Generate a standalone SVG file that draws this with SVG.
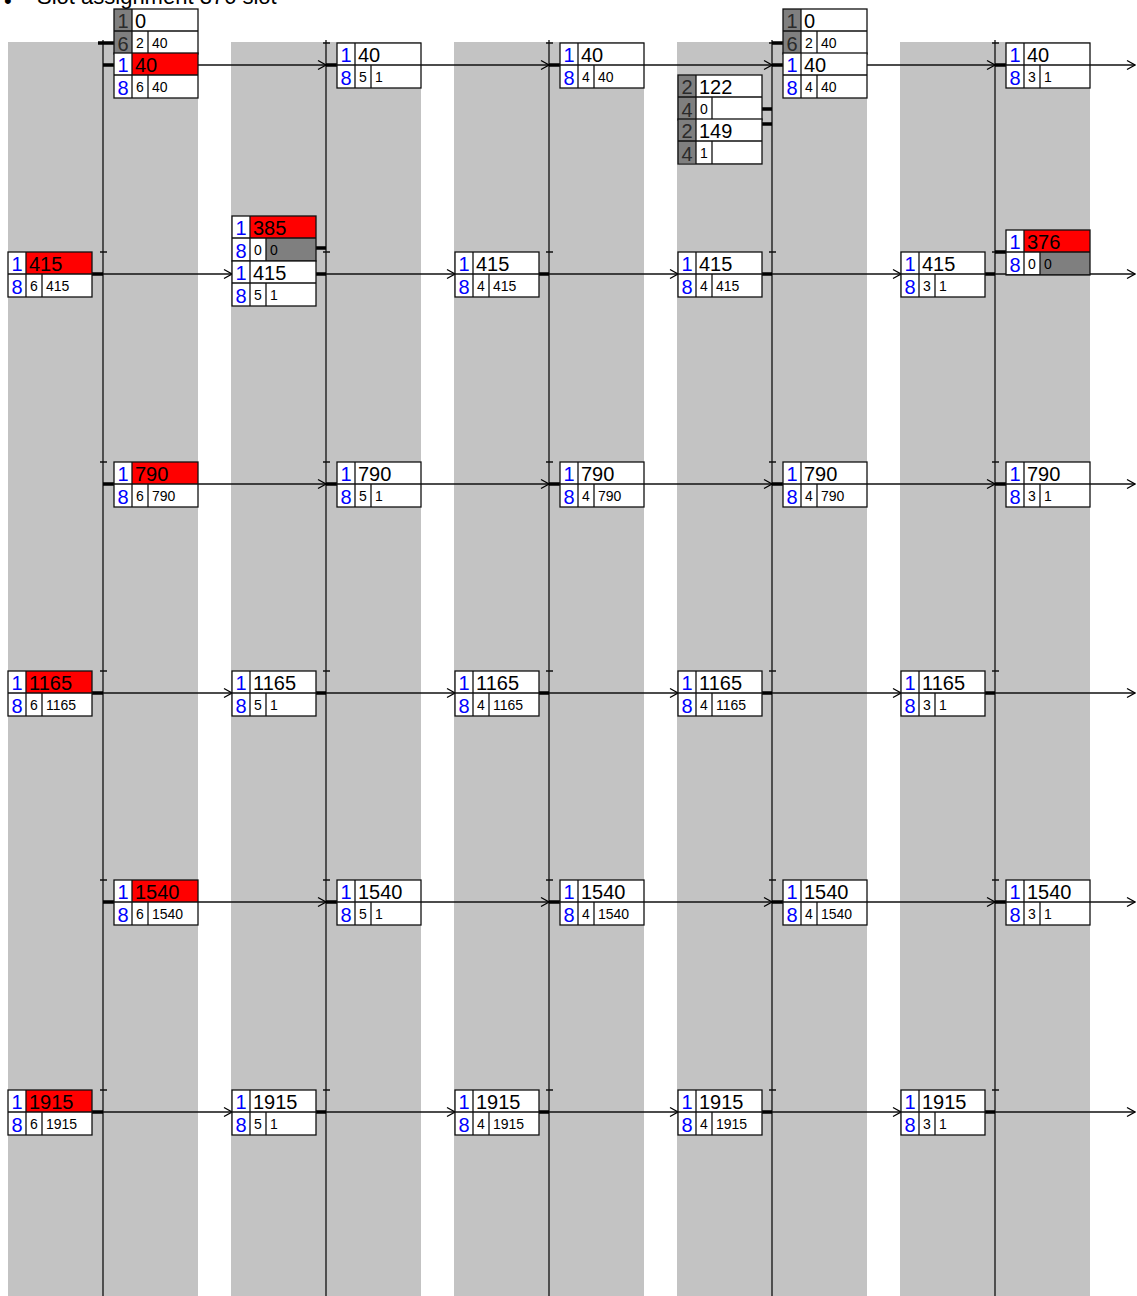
<svg xmlns="http://www.w3.org/2000/svg" xmlns:xlink="http://www.w3.org/1999/xlink" width="1137" height="1296" viewBox="0 0 1137 1296">
<style>
.band{fill:#c3c3c3}
.vl{stroke:#111;stroke-width:1.3;fill:none}
.ln{stroke:#111;stroke-width:1.3;fill:none}
.ar{stroke:#111;stroke-width:1.3;fill:none;marker-end:url(#ah)}
.st{stroke:#000;stroke-width:3.5;fill:none}
.bg{fill:#fff}
.red{fill:#ff0000}
.dk{fill:#7f7f7f}
text{font-family:"Liberation Sans",Arial,sans-serif}
.bl{font-size:20px;fill:#0000ff;text-anchor:middle}
.dt{font-size:20px;fill:#2a2a2a;text-anchor:middle}
.v{font-size:20px;fill:#000}
.s{font-size:14px;fill:#000;text-anchor:middle}
.sv{font-size:14px;fill:#000}
.ttl{font-size:22px;fill:#000}
</style>
<defs>
<marker id="ah" markerUnits="userSpaceOnUse" markerWidth="10" markerHeight="12" refX="9" refY="5" orient="auto" viewBox="0 0 10 10">
<path d="M1,0.5 L9,5 L1,9.5" fill="none" stroke="#000" stroke-width="1.3"/>
</marker>
<g id="grid">
<rect x="0" y="0" width="84" height="45" fill="none" stroke="#111" stroke-width="1.3"/>
<path d="M18,0V45M0,22H84M34,22V45" stroke="#111" stroke-width="1.3" fill="none"/>
</g>
</defs>

<text class="ttl" x="4" y="8">•</text>
<text class="ttl" x="37" y="4">Slot assignment 376 slot</text>

<g id="bands">
<rect class="band" x="8" y="42" width="190" height="1254"/>
<rect class="band" x="231" y="42" width="190" height="1254"/>
<rect class="band" x="454" y="42" width="190" height="1254"/>
<rect class="band" x="677" y="42" width="190" height="1254"/>
<rect class="band" x="900" y="42" width="190" height="1254"/>
</g>

<g id="timelines">
<path class="vl" d="M103,40V1296M326,40V1296M549,40V1296M772,40V1296M995,40V1296"/>
</g>

<g id="connectors">
<path class="ln" d="M100,43H107M323,43H330M546,43H553M769,43H776M992,43H999
M100,252H107M323,252H330M546,252H553M769,252H776M992,252H999
M100,462H107M323,462H330M546,462H553M769,462H776M992,462H999
M100,671H107M323,671H330M546,671H553M769,671H776M992,671H999
M100,880H107M323,880H330M546,880H553M769,880H776M992,880H999
M100,1090H107M323,1090H330M546,1090H553M769,1090H776M992,1090H999"/>
<line class="ar" x1="198" y1="65" x2="326" y2="65"/>
<line class="ar" x1="421" y1="65" x2="549" y2="65"/>
<line class="ar" x1="644" y1="65" x2="772" y2="65"/>
<line class="ar" x1="867" y1="65" x2="995" y2="65"/>
<line class="ar" x1="1090" y1="65" x2="1135" y2="65"/>
<path class="st" d="M98,43H114M103,65H114M326,65H337M549,65H560M772,43H783M772,65H783M995,65H1006M762,109H772M762,124H772"/>
<line class="ar" x1="103" y1="274" x2="232" y2="274"/>
<line class="ar" x1="326" y1="274" x2="455" y2="274"/>
<line class="ar" x1="549" y1="274" x2="678" y2="274"/>
<line class="ar" x1="772" y1="274" x2="901" y2="274"/>
<line class="ar" x1="995" y1="274" x2="1135" y2="274"/>
<path class="st" d="M92,274H103M316,274H326M316,248H326M539,274H549M762,274H772M985,274H995M995,252H1006"/>
<line class="ar" x1="198" y1="484" x2="326" y2="484"/>
<line class="ar" x1="421" y1="484" x2="549" y2="484"/>
<line class="ar" x1="644" y1="484" x2="772" y2="484"/>
<line class="ar" x1="867" y1="484" x2="995" y2="484"/>
<line class="ar" x1="1090" y1="484" x2="1135" y2="484"/>
<path class="st" d="M103,484H114M326,484H337M549,484H560M772,484H783M995,484H1006"/>
<line class="ar" x1="103" y1="693" x2="232" y2="693"/>
<line class="ar" x1="326" y1="693" x2="455" y2="693"/>
<line class="ar" x1="549" y1="693" x2="678" y2="693"/>
<line class="ar" x1="772" y1="693" x2="901" y2="693"/>
<line class="ar" x1="995" y1="693" x2="1135" y2="693"/>
<path class="st" d="M92,693H103M316,693H326M539,693H549M762,693H772M985,693H995"/>
<line class="ar" x1="198" y1="902" x2="326" y2="902"/>
<line class="ar" x1="421" y1="902" x2="549" y2="902"/>
<line class="ar" x1="644" y1="902" x2="772" y2="902"/>
<line class="ar" x1="867" y1="902" x2="995" y2="902"/>
<line class="ar" x1="1090" y1="902" x2="1135" y2="902"/>
<path class="st" d="M103,902H114M326,902H337M549,902H560M772,902H783M995,902H1006"/>
<line class="ar" x1="103" y1="1112" x2="232" y2="1112"/>
<line class="ar" x1="326" y1="1112" x2="455" y2="1112"/>
<line class="ar" x1="549" y1="1112" x2="678" y2="1112"/>
<line class="ar" x1="772" y1="1112" x2="901" y2="1112"/>
<line class="ar" x1="995" y1="1112" x2="1135" y2="1112"/>
<path class="st" d="M92,1112H103M316,1112H326M539,1112H549M762,1112H772M985,1112H995"/>
</g>

<g id="n-r1-c1-g" transform="translate(114,9)"><rect class="bg" width="84" height="45"/><rect class="dk" width="18" height="45"/><use xlink:href="#grid"/><text class="dt" x="9" y="19">1</text><text class="dt" x="9" y="42">6</text><text class="v" x="21" y="19">0</text><text class="s" x="26" y="39">2</text><text class="sv" x="38" y="39">40</text></g>
<g id="n-r1-c1" transform="translate(114,53)"><rect class="bg" width="84" height="45"/><rect class="red" x="18" width="66" height="22"/><use xlink:href="#grid"/><text class="bl" x="9" y="19">1</text><text class="bl" x="9" y="42">8</text><text class="v" x="21" y="19">40</text><text class="s" x="26" y="39">6</text><text class="sv" x="38" y="39">40</text></g>
<g id="n-r1-c2" transform="translate(337,43)"><rect class="bg" width="84" height="45"/><use xlink:href="#grid"/><text class="bl" x="9" y="19">1</text><text class="bl" x="9" y="42">8</text><text class="v" x="21" y="19">40</text><text class="s" x="26" y="39">5</text><text class="sv" x="38" y="39">1</text></g>
<g id="n-r1-c3" transform="translate(560,43)"><rect class="bg" width="84" height="45"/><use xlink:href="#grid"/><text class="bl" x="9" y="19">1</text><text class="bl" x="9" y="42">8</text><text class="v" x="21" y="19">40</text><text class="s" x="26" y="39">4</text><text class="sv" x="38" y="39">40</text></g>
<g id="n-r1-x1" transform="translate(678,75)"><rect class="bg" width="84" height="44"/><rect class="dk" width="18" height="44"/><use xlink:href="#grid"/><text class="dt" x="9" y="19">2</text><text class="dt" x="9" y="42">4</text><text class="v" x="21" y="19">122</text><text class="s" x="26" y="39">0</text></g>
<g id="n-r1-x2" transform="translate(678,119)"><rect class="bg" width="84" height="44"/><rect class="dk" width="18" height="44"/><use xlink:href="#grid"/><text class="dt" x="9" y="19">2</text><text class="dt" x="9" y="42">4</text><text class="v" x="21" y="19">149</text><text class="s" x="26" y="39">1</text></g>
<g id="n-r1-c4-g" transform="translate(783,9)"><rect class="bg" width="84" height="45"/><rect class="dk" width="18" height="45"/><use xlink:href="#grid"/><text class="dt" x="9" y="19">1</text><text class="dt" x="9" y="42">6</text><text class="v" x="21" y="19">0</text><text class="s" x="26" y="39">2</text><text class="sv" x="38" y="39">40</text></g>
<g id="n-r1-c4" transform="translate(783,53)"><rect class="bg" width="84" height="45"/><use xlink:href="#grid"/><text class="bl" x="9" y="19">1</text><text class="bl" x="9" y="42">8</text><text class="v" x="21" y="19">40</text><text class="s" x="26" y="39">4</text><text class="sv" x="38" y="39">40</text></g>
<g id="n-r1-c5" transform="translate(1006,43)"><rect class="bg" width="84" height="45"/><use xlink:href="#grid"/><text class="bl" x="9" y="19">1</text><text class="bl" x="9" y="42">8</text><text class="v" x="21" y="19">40</text><text class="s" x="26" y="39">3</text><text class="sv" x="38" y="39">1</text></g>

<g id="n-r2-c1" transform="translate(8,252)"><rect class="bg" width="84" height="45"/><rect class="red" x="18" width="66" height="22"/><use xlink:href="#grid"/><text class="bl" x="9" y="19">1</text><text class="bl" x="9" y="42">8</text><text class="v" x="21" y="19">415</text><text class="s" x="26" y="39">6</text><text class="sv" x="38" y="39">415</text></g>
<g id="n-r2-c2-a" transform="translate(232,216)"><rect class="bg" width="84" height="45"/><rect class="red" x="18" width="66" height="22"/><rect class="dk" x="34" y="22" width="50" height="23"/><use xlink:href="#grid"/><text class="bl" x="9" y="19">1</text><text class="bl" x="9" y="42">8</text><text class="v" x="21" y="19">385</text><text class="s" x="26" y="39">0</text><text class="sv" x="38" y="39">0</text></g>
<g id="n-r2-c2" transform="translate(232,261)"><rect class="bg" width="84" height="45"/><use xlink:href="#grid"/><text class="bl" x="9" y="19">1</text><text class="bl" x="9" y="42">8</text><text class="v" x="21" y="19">415</text><text class="s" x="26" y="39">5</text><text class="sv" x="38" y="39">1</text></g>
<g id="n-r2-c3" transform="translate(455,252)"><rect class="bg" width="84" height="45"/><use xlink:href="#grid"/><text class="bl" x="9" y="19">1</text><text class="bl" x="9" y="42">8</text><text class="v" x="21" y="19">415</text><text class="s" x="26" y="39">4</text><text class="sv" x="38" y="39">415</text></g>
<g id="n-r2-c4" transform="translate(678,252)"><rect class="bg" width="84" height="45"/><use xlink:href="#grid"/><text class="bl" x="9" y="19">1</text><text class="bl" x="9" y="42">8</text><text class="v" x="21" y="19">415</text><text class="s" x="26" y="39">4</text><text class="sv" x="38" y="39">415</text></g>
<g id="n-r2-c5" transform="translate(901,252)"><rect class="bg" width="84" height="45"/><use xlink:href="#grid"/><text class="bl" x="9" y="19">1</text><text class="bl" x="9" y="42">8</text><text class="v" x="21" y="19">415</text><text class="s" x="26" y="39">3</text><text class="sv" x="38" y="39">1</text></g>
<g id="n-r2-c6" transform="translate(1006,230)"><rect class="bg" width="84" height="44"/><rect class="red" x="18" width="66" height="22"/><rect class="dk" x="34" y="22" width="50" height="22"/><use xlink:href="#grid"/><text class="bl" x="9" y="19">1</text><text class="bl" x="9" y="42">8</text><text class="v" x="21" y="19">376</text><text class="s" x="26" y="39">0</text><text class="sv" x="38" y="39">0</text></g>

<g id="n-r3-c1" transform="translate(114,462)"><rect class="bg" width="84" height="45"/><rect class="red" x="18" width="66" height="22"/><use xlink:href="#grid"/><text class="bl" x="9" y="19">1</text><text class="bl" x="9" y="42">8</text><text class="v" x="21" y="19">790</text><text class="s" x="26" y="39">6</text><text class="sv" x="38" y="39">790</text></g>
<g id="n-r3-c2" transform="translate(337,462)"><rect class="bg" width="84" height="45"/><use xlink:href="#grid"/><text class="bl" x="9" y="19">1</text><text class="bl" x="9" y="42">8</text><text class="v" x="21" y="19">790</text><text class="s" x="26" y="39">5</text><text class="sv" x="38" y="39">1</text></g>
<g id="n-r3-c3" transform="translate(560,462)"><rect class="bg" width="84" height="45"/><use xlink:href="#grid"/><text class="bl" x="9" y="19">1</text><text class="bl" x="9" y="42">8</text><text class="v" x="21" y="19">790</text><text class="s" x="26" y="39">4</text><text class="sv" x="38" y="39">790</text></g>
<g id="n-r3-c4" transform="translate(783,462)"><rect class="bg" width="84" height="45"/><use xlink:href="#grid"/><text class="bl" x="9" y="19">1</text><text class="bl" x="9" y="42">8</text><text class="v" x="21" y="19">790</text><text class="s" x="26" y="39">4</text><text class="sv" x="38" y="39">790</text></g>
<g id="n-r3-c5" transform="translate(1006,462)"><rect class="bg" width="84" height="45"/><use xlink:href="#grid"/><text class="bl" x="9" y="19">1</text><text class="bl" x="9" y="42">8</text><text class="v" x="21" y="19">790</text><text class="s" x="26" y="39">3</text><text class="sv" x="38" y="39">1</text></g>

<g id="n-r4-c1" transform="translate(8,671)"><rect class="bg" width="84" height="45"/><rect class="red" x="18" width="66" height="22"/><use xlink:href="#grid"/><text class="bl" x="9" y="19">1</text><text class="bl" x="9" y="42">8</text><text class="v" x="21" y="19">1165</text><text class="s" x="26" y="39">6</text><text class="sv" x="38" y="39">1165</text></g>
<g id="n-r4-c2" transform="translate(232,671)"><rect class="bg" width="84" height="45"/><use xlink:href="#grid"/><text class="bl" x="9" y="19">1</text><text class="bl" x="9" y="42">8</text><text class="v" x="21" y="19">1165</text><text class="s" x="26" y="39">5</text><text class="sv" x="38" y="39">1</text></g>
<g id="n-r4-c3" transform="translate(455,671)"><rect class="bg" width="84" height="45"/><use xlink:href="#grid"/><text class="bl" x="9" y="19">1</text><text class="bl" x="9" y="42">8</text><text class="v" x="21" y="19">1165</text><text class="s" x="26" y="39">4</text><text class="sv" x="38" y="39">1165</text></g>
<g id="n-r4-c4" transform="translate(678,671)"><rect class="bg" width="84" height="45"/><use xlink:href="#grid"/><text class="bl" x="9" y="19">1</text><text class="bl" x="9" y="42">8</text><text class="v" x="21" y="19">1165</text><text class="s" x="26" y="39">4</text><text class="sv" x="38" y="39">1165</text></g>
<g id="n-r4-c5" transform="translate(901,671)"><rect class="bg" width="84" height="45"/><use xlink:href="#grid"/><text class="bl" x="9" y="19">1</text><text class="bl" x="9" y="42">8</text><text class="v" x="21" y="19">1165</text><text class="s" x="26" y="39">3</text><text class="sv" x="38" y="39">1</text></g>

<g id="n-r5-c1" transform="translate(114,880)"><rect class="bg" width="84" height="45"/><rect class="red" x="18" width="66" height="22"/><use xlink:href="#grid"/><text class="bl" x="9" y="19">1</text><text class="bl" x="9" y="42">8</text><text class="v" x="21" y="19">1540</text><text class="s" x="26" y="39">6</text><text class="sv" x="38" y="39">1540</text></g>
<g id="n-r5-c2" transform="translate(337,880)"><rect class="bg" width="84" height="45"/><use xlink:href="#grid"/><text class="bl" x="9" y="19">1</text><text class="bl" x="9" y="42">8</text><text class="v" x="21" y="19">1540</text><text class="s" x="26" y="39">5</text><text class="sv" x="38" y="39">1</text></g>
<g id="n-r5-c3" transform="translate(560,880)"><rect class="bg" width="84" height="45"/><use xlink:href="#grid"/><text class="bl" x="9" y="19">1</text><text class="bl" x="9" y="42">8</text><text class="v" x="21" y="19">1540</text><text class="s" x="26" y="39">4</text><text class="sv" x="38" y="39">1540</text></g>
<g id="n-r5-c4" transform="translate(783,880)"><rect class="bg" width="84" height="45"/><use xlink:href="#grid"/><text class="bl" x="9" y="19">1</text><text class="bl" x="9" y="42">8</text><text class="v" x="21" y="19">1540</text><text class="s" x="26" y="39">4</text><text class="sv" x="38" y="39">1540</text></g>
<g id="n-r5-c5" transform="translate(1006,880)"><rect class="bg" width="84" height="45"/><use xlink:href="#grid"/><text class="bl" x="9" y="19">1</text><text class="bl" x="9" y="42">8</text><text class="v" x="21" y="19">1540</text><text class="s" x="26" y="39">3</text><text class="sv" x="38" y="39">1</text></g>

<g id="n-r6-c1" transform="translate(8,1090)"><rect class="bg" width="84" height="45"/><rect class="red" x="18" width="66" height="22"/><use xlink:href="#grid"/><text class="bl" x="9" y="19">1</text><text class="bl" x="9" y="42">8</text><text class="v" x="21" y="19">1915</text><text class="s" x="26" y="39">6</text><text class="sv" x="38" y="39">1915</text></g>
<g id="n-r6-c2" transform="translate(232,1090)"><rect class="bg" width="84" height="45"/><use xlink:href="#grid"/><text class="bl" x="9" y="19">1</text><text class="bl" x="9" y="42">8</text><text class="v" x="21" y="19">1915</text><text class="s" x="26" y="39">5</text><text class="sv" x="38" y="39">1</text></g>
<g id="n-r6-c3" transform="translate(455,1090)"><rect class="bg" width="84" height="45"/><use xlink:href="#grid"/><text class="bl" x="9" y="19">1</text><text class="bl" x="9" y="42">8</text><text class="v" x="21" y="19">1915</text><text class="s" x="26" y="39">4</text><text class="sv" x="38" y="39">1915</text></g>
<g id="n-r6-c4" transform="translate(678,1090)"><rect class="bg" width="84" height="45"/><use xlink:href="#grid"/><text class="bl" x="9" y="19">1</text><text class="bl" x="9" y="42">8</text><text class="v" x="21" y="19">1915</text><text class="s" x="26" y="39">4</text><text class="sv" x="38" y="39">1915</text></g>
<g id="n-r6-c5" transform="translate(901,1090)"><rect class="bg" width="84" height="45"/><use xlink:href="#grid"/><text class="bl" x="9" y="19">1</text><text class="bl" x="9" y="42">8</text><text class="v" x="21" y="19">1915</text><text class="s" x="26" y="39">3</text><text class="sv" x="38" y="39">1</text></g>
</svg>
